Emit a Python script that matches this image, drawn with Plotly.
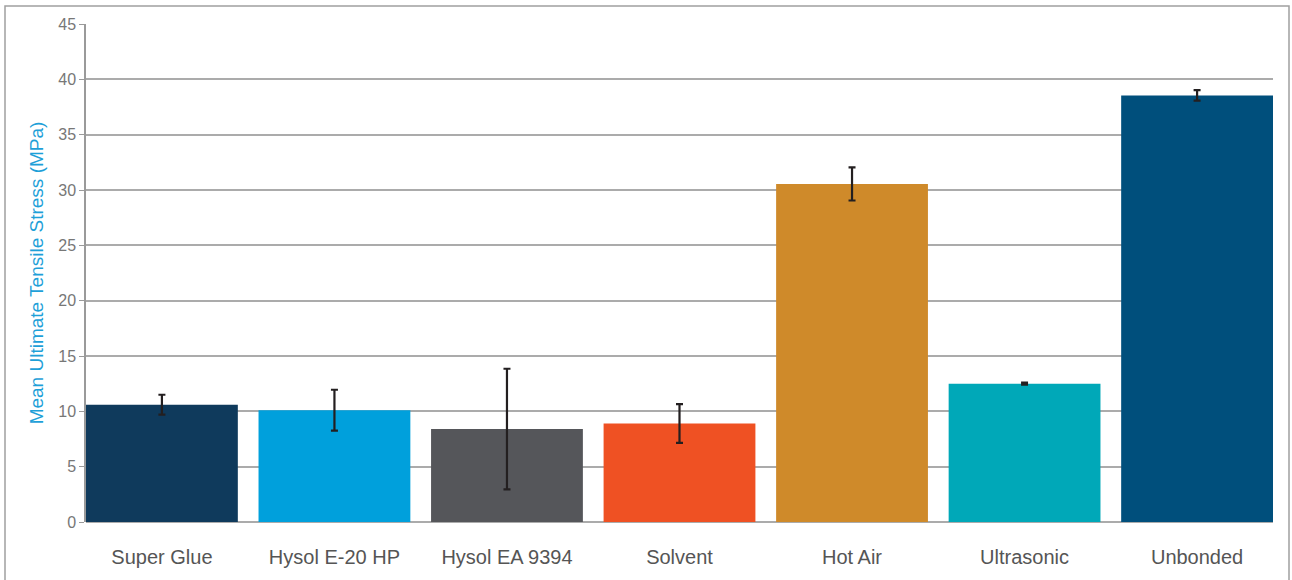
import plotly.graph_objects as go

categories = ["Super Glue", "Hysol E-20 HP", "Hysol EA 9394", "Solvent", "Hot Air", "Ultrasonic", "Unbonded"]
means = [10.6, 10.1, 8.4, 8.9, 30.55, 12.5, 38.55]
errors = [0.9, 1.85, 5.45, 1.75, 1.5, 0.1, 0.48]
colors = ["#0f3a5c", "#00a0dc", "#55565a", "#ef5123", "#cf8a2a", "#00a8b8", "#004f7c"]
y_ticks = [0, 5, 10, 15, 20, 25, 30, 35, 40, 45]

W, H = 1292, 580
L, R, T, B = 86, 19, 24, 58
pw, ph = W - L - R, H - T - B

fig = go.Figure()
fig.add_trace(go.Bar(
    x=list(range(len(categories))),
    y=means,
    width=0.88,
    marker=dict(color=colors, line=dict(width=0)),
    error_y=dict(type="data", array=errors, visible=True, color="#231f20", thickness=2.2, width=3.5),
    showlegend=False,
    hoverinfo="x+y",
))

fig.update_layout(
    width=W, height=H,
    margin=dict(l=L, r=R, t=T, b=B),
    paper_bgcolor="white",
    plot_bgcolor="white",
    font=dict(family="Liberation Sans, Arial, sans-serif", color="#555555"),
    bargap=0.12,
    xaxis=dict(
        range=[-0.44, len(categories) - 1 + 0.44],
        tickmode="array",
        tickvals=list(range(len(categories))),
        ticktext=categories,
        tickfont=dict(size=20, color="#555555"),
        showgrid=False,
        zeroline=False,
        showline=False,
        ticks="",
        ticklabelstandoff=21,
    ),
    yaxis=dict(
        range=[0, 45],
        tickmode="array",
        tickvals=y_ticks,
        tickfont=dict(size=16, color="#777777"),
        showgrid=True,
        gridcolor="#ababab",
        gridwidth=1.5,
        zeroline=True,
        zerolinecolor="#ababab",
        zerolinewidth=1.5,
        showline=True,
        linecolor="#9a9a9a",
        linewidth=1.5,
        ticks="outside",
        ticklen=5,
        tickcolor="#9a9a9a",
        title=dict(text="Mean Ultimate Tensile Stress (MPa)", font=dict(size=19, color="#1ea0d8"), standoff=10),
    ),
)

# outer frame around the graphic
fig.add_shape(
    type="rect", xref="paper", yref="paper",
    x0=(5 - L) / pw, x1=(1289 - L) / pw,
    y0=-(600 - (H - B)) / ph,
    y1=((H - B) - 6) / ph,
    line=dict(color="#a0a0a0", width=1.5),
    fillcolor="rgba(0,0,0,0)",
    layer="below",
)

fig.write_html(
    "out.html",
    config={"displayModeBar": False},
    post_script="document.body.style.margin='0';document.body.style.overflow='hidden';",
)
